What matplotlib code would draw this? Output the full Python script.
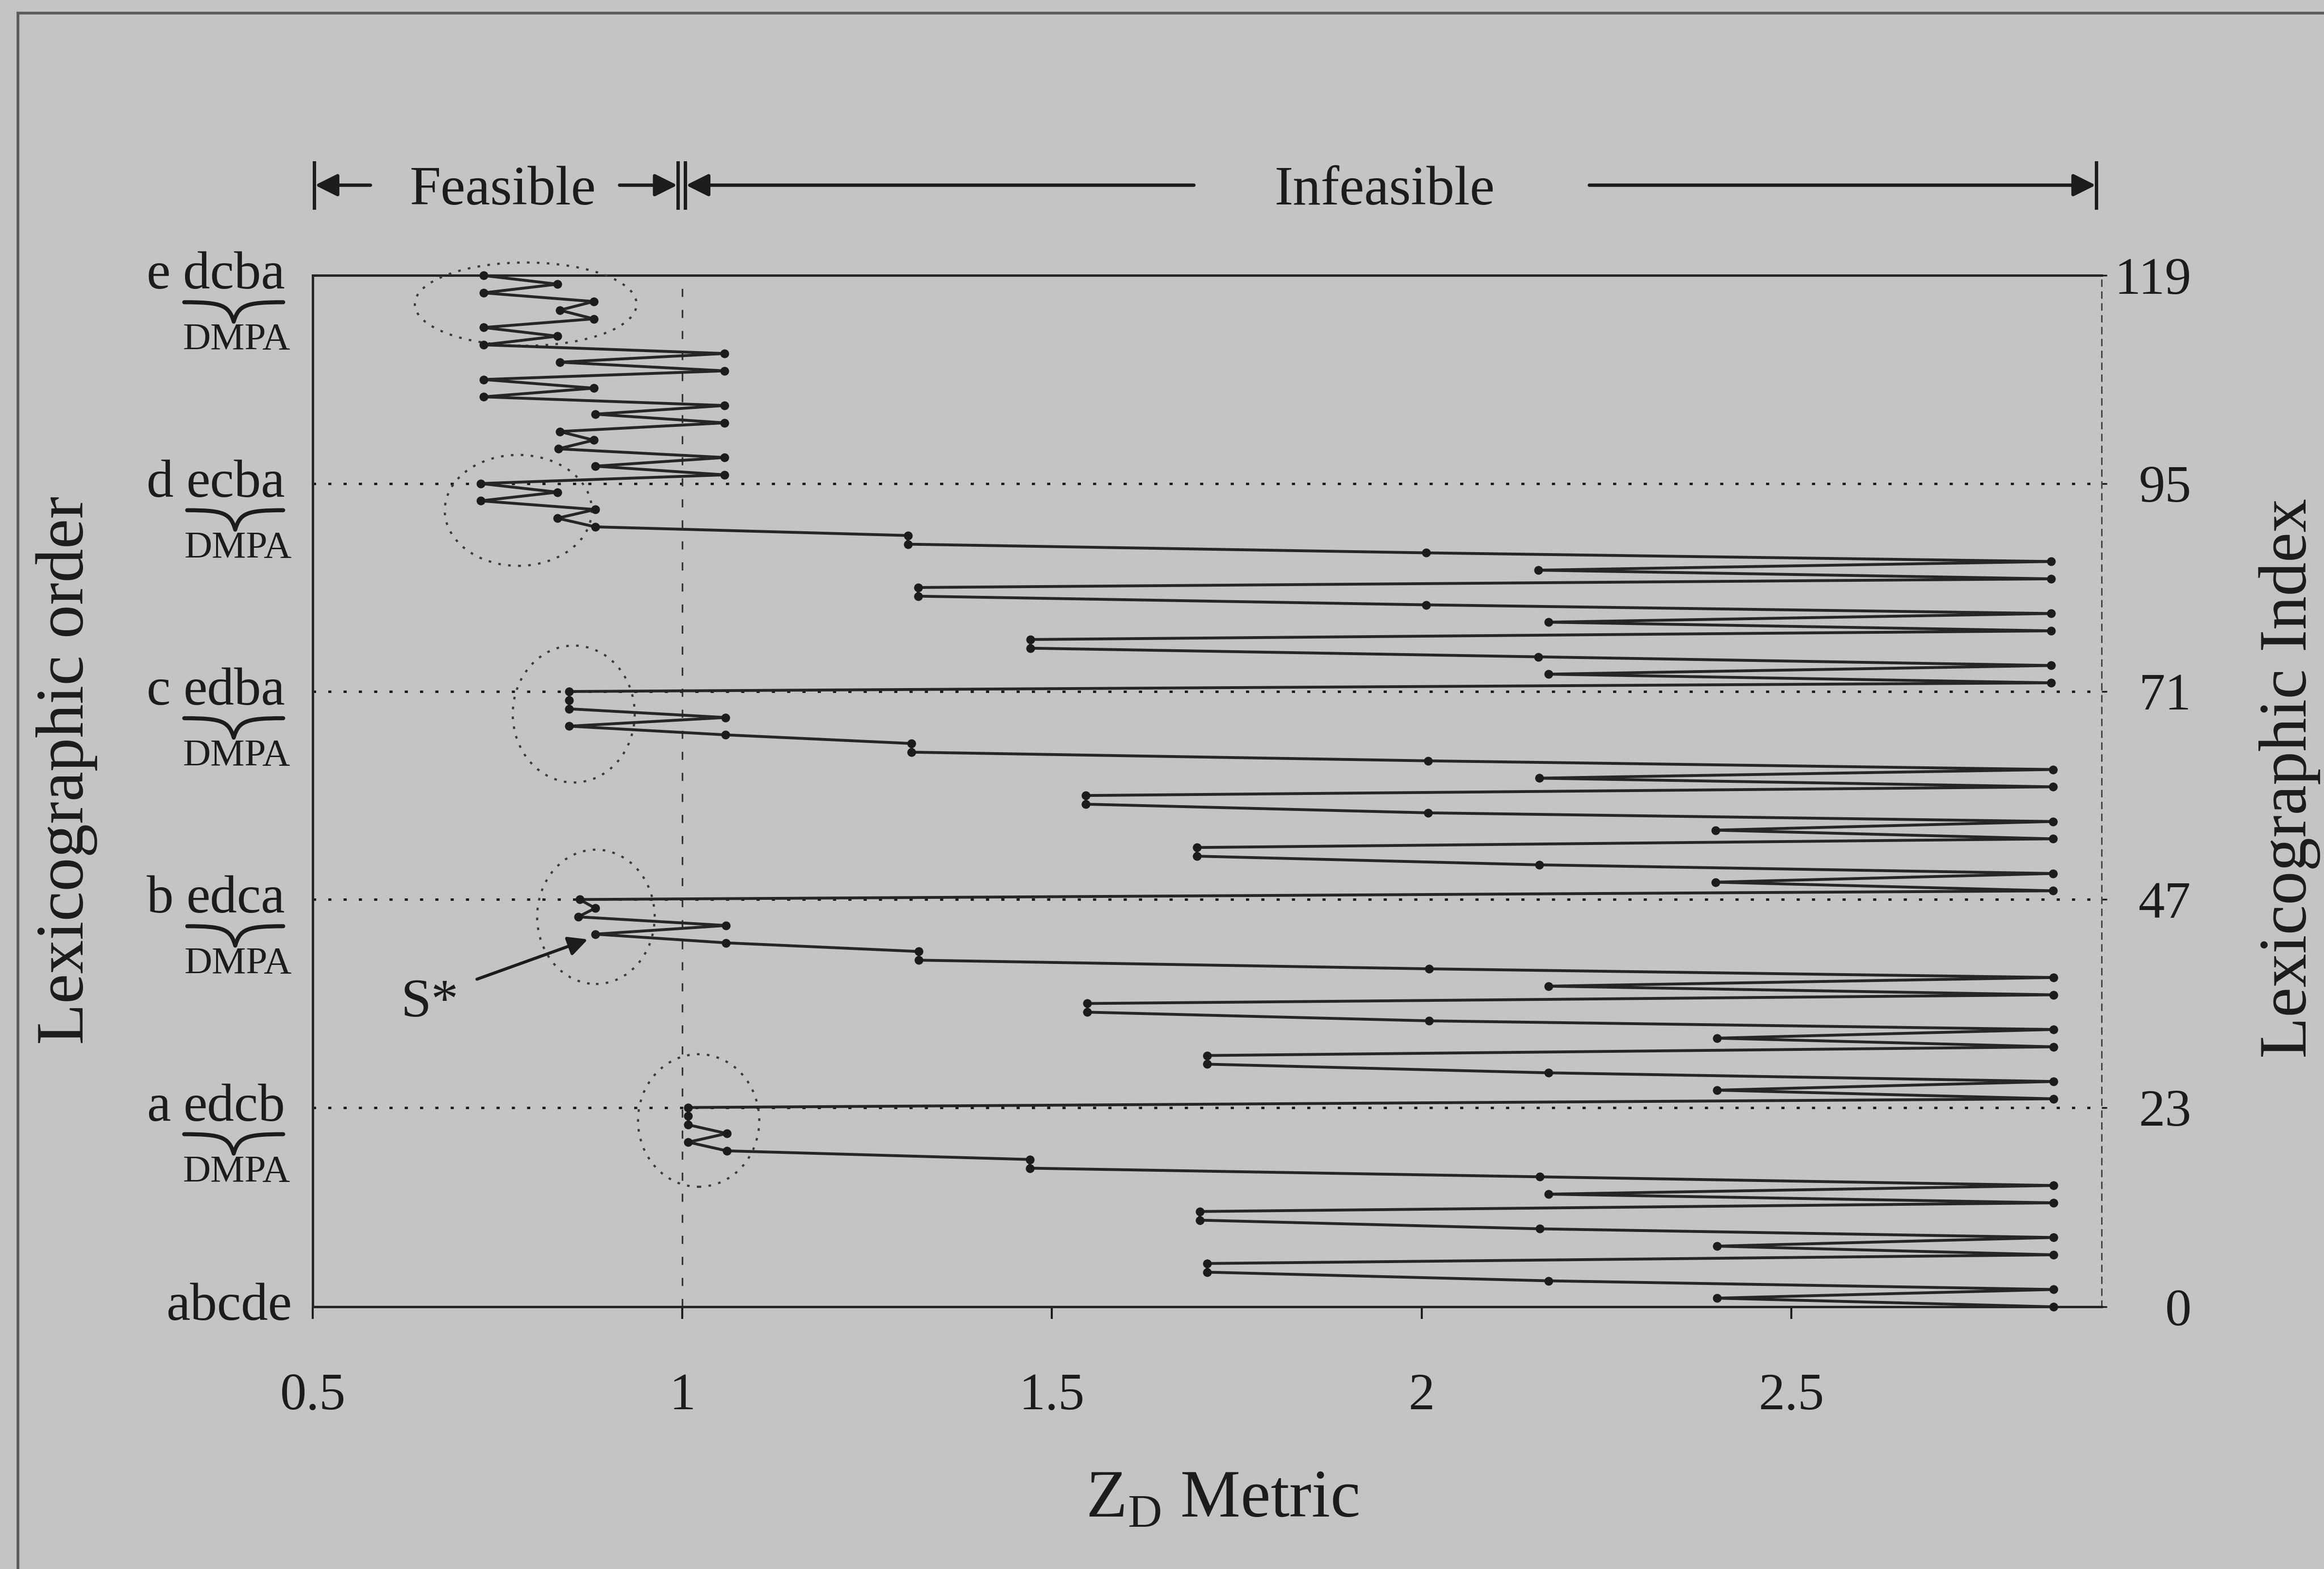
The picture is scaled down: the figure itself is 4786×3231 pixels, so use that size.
import matplotlib
matplotlib.use("Agg")
import matplotlib.pyplot as plt
import numpy as np
from matplotlib.patches import Ellipse, PathPatch
from matplotlib.lines import Line2D
from matplotlib.path import Path
from matplotlib.transforms import IdentityTransform, blended_transform_factory

plt.rcParams["font.family"] = ["Liberation Serif", "DejaVu Serif"]
plt.rcParams["mathtext.fontset"] = "custom"
plt.rcParams["mathtext.rm"] = "Liberation Serif"

# Z_D metric for the 120 sequences, one block per leading element
zd_a = [2.855, 2.400, 2.855, 2.172, 1.710, 1.710, 2.855, 2.400, 2.855, 2.160, 1.700, 1.700,
        2.855, 2.172, 2.855, 2.160, 1.470, 1.470, 1.060, 1.008, 1.060, 1.008, 1.008, 1.008]
zd_b = [2.855, 2.400, 2.855, 2.172, 1.710, 1.710, 2.855, 2.400, 2.855, 2.010, 1.548, 1.548,
        2.855, 2.172, 2.855, 2.010, 1.320, 1.320, 1.059, 0.882, 1.059, 0.859, 0.882, 0.861]
zd_c = [2.854, 2.398, 2.854, 2.159, 1.696, 1.696, 2.854, 2.398, 2.854, 2.009, 1.546, 1.546,
        2.854, 2.159, 2.854, 2.009, 1.310, 1.310, 1.058, 0.847, 1.058, 0.847, 0.847, 0.847]
zd_d = [2.852, 2.172, 2.852, 2.158, 1.471, 1.471, 2.852, 2.172, 2.852, 2.006, 1.319, 1.319,
        2.852, 2.158, 2.852, 2.006, 1.305, 1.305, 0.882, 0.831, 0.882, 0.727, 0.831, 0.727]
zd_e = [1.057, 0.882, 1.057, 0.832, 0.880, 0.834, 1.057, 0.882, 1.057, 0.731, 0.880, 0.731,
        1.057, 0.834, 1.057, 0.731, 0.831, 0.731, 0.880, 0.834, 0.880, 0.731, 0.831, 0.731]
zd_metric = zd_a + zd_b + zd_c + zd_d + zd_e
lex_index = np.arange(len(zd_metric))

block_ticks = [0, 23, 47, 71, 95, 119]
block_heads = ["", "a", "b", "c", "d", "e"]
block_tails = ["abcde", "edcb", "edca", "edba", "ecba", "dcba"]
boundary_ticks = [23, 47, 71, 95]
x_ticks = [0.5, 1, 1.5, 2, 2.5]
x_labels = ["0.5", "1", "1.5", "2", "2.5"]

# dotted rings around the low-Z_D end of each block
ring_x = [1.022, 0.883, 0.853, 0.778, 0.788]
ring_y = [21.5, 45.0, 68.4, 91.9, 115.7]
ring_w = [0.164, 0.159, 0.165, 0.199, 0.300]
ring_h = [15.3, 15.5, 15.8, 12.8, 9.6]

BG = "#c4c4c4"
INK = "#1c1c1c"
W, H, DPI = 4786, 3231, 100

fig = plt.figure(figsize=(W / DPI, H / DPI), dpi=DPI, facecolor=BG)
ax = fig.add_axes([0.1346, 0.1671, 0.7697, 0.6573], facecolor=BG)

ax.plot(zd_metric, lex_index, color="#262626", lw=4.2, marker="o", ms=12,
        mfc=INK, mec=INK, zorder=4, clip_on=False)

for y in boundary_ticks:
    ax.axhline(y, color=INK, lw=3.6, ls=(0, (1.3, 5.0)), zorder=2)
ax.axvline(1.0, color="#333333", lw=2.4, ls=(0, (5, 8)), zorder=2)

for cx, cy, w, h in zip(ring_x, ring_y, ring_w, ring_h):
    ax.add_patch(Ellipse((cx, cy), w, h, fill=False, ec="#3a3a3a", lw=3.2,
                         ls=(0, (1.2, 3.4)), zorder=3, clip_on=False))

ax.set_xlim(0.5, 2.92)
ax.set_ylim(0, 119)
ax.set_xticks(x_ticks, x_labels)
ax.set_yticks(block_ticks, [str(t) for t in block_ticks])
ax.tick_params(axis="x", direction="out", length=18, width=3, pad=80,
               labelsize=78, colors=INK)
ax.tick_params(axis="y", left=False, labelleft=False, right=True, labelright=True,
               direction="out", length=8, width=2.5, pad=125, labelsize=78, colors=INK)
for lab in ax.get_yticklabels():
    lab.set_horizontalalignment("right")

for side in ["left", "bottom", "top"]:
    ax.spines[side].set_linewidth(3.6)
    ax.spines[side].set_color("#262626")
ax.spines["right"].set_linewidth(2.2)
ax.spines["right"].set_color("#444444")
ax.spines["right"].set_linestyle((0, (4, 4)))

# feasible / infeasible bands above the plot
top = blended_transform_factory(ax.transData, ax.transAxes)
arrow_kw = dict(arrowstyle="-|>", color=INK, lw=5, mutation_scale=70, shrinkA=0, shrinkB=0)
y_arr = 1.0876
for x0, x1 in [(0.578, 0.503), (0.915, 0.993), (1.692, 1.005), (2.227, 2.912)]:
    ax.annotate("", xy=(x1, y_arr), xytext=(x0, y_arr), xycoords=top, textcoords=top,
                arrowprops=arrow_kw, annotation_clip=False)
for xb in [0.502, 0.994, 1.004, 2.913]:
    ax.add_line(Line2D([xb, xb], [y_arr - 0.022, y_arr + 0.022], transform=top,
                       color=INK, lw=5, clip_on=False))
ax.text(0.757, 1.069, "Feasible", transform=top, ha="center", va="baseline",
        fontsize=83, color=INK)
ax.text(1.95, 1.069, "Infeasible", transform=top, ha="center", va="baseline",
        fontsize=83, color=INK)

# optimum marker
ax.annotate("", xy=(0.872, 42.4), xytext=(0.722, 37.8),
            arrowprops=dict(arrowstyle="-|>", color=INK, lw=4.5, mutation_scale=60,
                            shrinkA=0, shrinkB=0), annotation_clip=False)
ax.text(0.658, 35.0, "S*", ha="center", va="center", fontsize=81, color=INK)

# block labels on the left: leading element plus the bracketed DMPA ordering
renderer = fig.canvas.get_renderer()
ident = IdentityTransform()
spine_x = 0.1346 * W
for idx, head, tail in zip(block_ticks, block_heads, block_tails):
    ty = (0.1671 + idx / 119 * 0.6573) * H
    if head == "":
        fig.text(spine_x - 43, ty - 27, tail, transform=ident, ha="right",
                 va="baseline", fontsize=80, color=INK)
        continue
    t = fig.text(spine_x - 57, ty - 27, tail, transform=ident, ha="right",
                 va="baseline", fontsize=80, color=INK)
    bb = t.get_window_extent(renderer)
    fig.text(bb.x0 - 26, ty - 27, head, transform=ident, ha="right",
             va="baseline", fontsize=80, color=INK)
    x0, x1 = bb.x0 + 2, bb.x1 - 4
    xm, w = (x0 + x1) / 2, x1 - x0
    yt, yb = ty - 55, ty - 95
    verts = [(x0, yt), (x0 + 0.38 * w, yt), (xm - 0.05 * w, yt - 0.15 * (yt - yb)), (xm, yb),
             (xm + 0.05 * w, yt - 0.15 * (yt - yb)), (x1 - 0.38 * w, yt), (x1, yt)]
    codes = [Path.MOVETO] + [Path.CURVE4] * 6
    fig.add_artist(PathPatch(Path(verts, codes), transform=ident, fill=False,
                             ec=INK, lw=6, capstyle="round", joinstyle="round"))
    fig.text(xm + 6, ty - 152, "DMPA", transform=ident, ha="center",
             va="baseline", fontsize=57, color=INK)

fig.text(0.0287, 0.509, "Lexicographic order", rotation=90, ha="center", va="center",
         fontsize=100, color=INK)
fig.text(0.9853, 0.504, "Lexicographic Index", rotation=90, ha="center", va="center",
         fontsize=100, color=INK)
fig.text(0.526, 0.044, r"Z$_{\mathrm{D}}$ Metric", ha="center", va="center",
         fontsize=100, color=INK)

# page frame
fig.add_artist(Line2D([0.0077, 0.0077], [0, 0.9915], transform=fig.transFigure,
                      color="#5a5a5a", lw=4))
fig.add_artist(Line2D([0.0077, 1.0], [0.9915, 0.9915], transform=fig.transFigure,
                      color="#5a5a5a", lw=4))

fig.savefig("out.png", dpi=DPI, facecolor=BG)
